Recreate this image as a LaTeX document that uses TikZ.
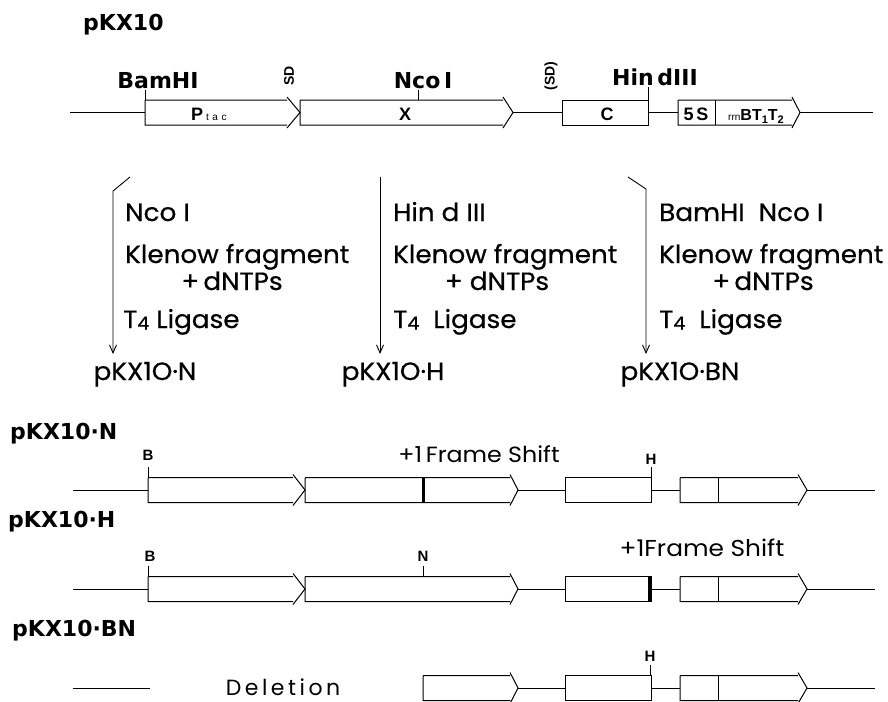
\documentclass[tikz,border=0pt]{standalone}
\usepackage{fontspec}
\usetikzlibrary{arrows.meta}
\setmainfont{Poppins}
\newfontfamily\bodyfont[FakeStretch=1.05,FakeBold=0.6]{Poppins}
\newfontfamily\thinfont[FakeStretch=1.08]{Poppins}
\newfontfamily\labfont{DejaVu Sans}
\newfontfamily\smallfont{Liberation Sans}
\newfontfamily\spacedfont[LetterSpace=16]{Poppins}
\newfontfamily\tacfont[LetterSpace=35]{Liberation Sans}
% gene arrow: [opts] x0, xhead, xtip, ycenter
\newcommand\genearrow[5][]{%
  \draw[gene,#1] (#2,#5-12.5) -- (#3,#5-12.5) (#3,#5-15.5) -- (#4,#5) -- (#3,#5+15.5)
    (#3,#5+12.5) -- (#2,#5+12.5) -- (#2,#5-12.5);}
\newcommand\genebox[3]{\draw[gene] (#1,#3-12.5) rectangle (#2,#3+12.5);}
\newcommand\Tfour{T\raisebox{-1.5pt}{\fontsize{18}{18}\selectfont 4}}
\begin{document}
\begin{tikzpicture}[x=1pt,y=-1pt,
  gene/.style={line width=1pt, line join=miter},
  dna/.style={line width=0.9pt},
  tick/.style={line width=0.9pt},
  big/.style={font=\labfont\bfseries\fontsize{22}{22}\selectfont, inner sep=0pt},
  small/.style={font=\smallfont\bfseries\fontsize{15}{15}\selectfont, inner sep=0pt},
  body/.style={font=\bodyfont\fontsize{25}{25}\selectfont, inner sep=0pt},
  inbox/.style={font=\smallfont\bfseries\fontsize{18}{18}\selectfont, inner sep=0pt},
  sdlab/.style={font=\smallfont\bfseries\fontsize{14}{14}\selectfont, inner sep=0pt, rotate=90},
  proc/.style={line width=0.9pt, -{Straight Barb[length=8pt,width=7pt,line width=0.9pt]}},
  thin/.style={font=\thinfont\fontsize{22}{22}\selectfont, inner sep=0pt}]
\useasboundingbox (0,0) rectangle (888,701);

% ================= pKX10 =================
\node[big, anchor=base west] (title) at (83,31) {pKX10};
\draw[dna] (70,112.5) -- (145,112.5);
\genearrow{145}{287}{300}{112.5}
\genearrow{300}{503}{513}{112.5}
\draw[dna] (513,112.5) -- (562,112.5);
\genebox{562}{648}{112.5}
\draw[dna] (648,112.5) -- (678,112.5);
\genearrow{678}{792}{800}{112.5}
\draw[gene] (715,100) -- (715,125);
\draw[dna] (800,112.5) -- (873,112.5);
% sites
\draw[tick] (145,90) -- (145,100);
\draw[tick] (418,90) -- (418,100);
\draw[tick] (648,87) -- (648,100);
\node[big, anchor=base] (bam) at (158,88) {BamHI};
\node[big, anchor=base] (nco) at (423,88) {Nco\,I};
\node[big, anchor=base] (hin) at (655,85) {Hin\,dIII};
\node[sdlab] (sd) at (289,76) {SD};
\node[sdlab] (sd2) at (551,76) {(SD)};
% box labels
\node[inbox, anchor=base west] (ptac) at (191,120) {P\,{\tacfont\mdseries\fontsize{10}{10}\selectfont tac}};
\node[inbox, anchor=base] (xlab) at (405,120) {X};
\node[inbox, anchor=base] (clab) at (607,120) {C};
\node[inbox, anchor=base] (fives) at (696,120) {5\,S};
\node[inbox, anchor=base] (rrn) at (756,120) {{\mdseries\fontsize{10}{10}\selectfont rrn}{\fontsize{16}{16}\selectfont BT\raisebox{-3pt}{\fontsize{11}{11}\selectfont 1}T\raisebox{-3pt}{\fontsize{11}{11}\selectfont 2}}};

% ================= processes =================
\coordinate (a1s) at (130,177);
\coordinate (a1b) at (113,191);
\coordinate (a1e) at (113,354);
\coordinate (a2s) at (380,177);
\coordinate (a2e) at (380,354);
\coordinate (a3s) at (628,177);
\coordinate (a3b) at (646,189);
\coordinate (a3e) at (646,354);
\draw[proc] (a1s) -- (a1b) -- (a1e);
\draw[proc] (a2s) -- (a2e);
\draw[proc] (a3s) -- (a3b) -- (a3e);

\node[body, anchor=base west] (n1) at (125,221) {Nco I};
\node[body, anchor=base west] (k1) at (125,263) {Klenow fragment};
\node[body, anchor=base] (d1) at (232,290) {+\,dNTPs};
\node[body, anchor=base west] (t1) at (123,328) {\Tfour\ Ligase};
\node[body, anchor=base] (p1) at (145,380) {pKX1O·N};

\node[body, anchor=base west] (n2) at (393,221) {Hin d III};
\node[body, anchor=base west] (k2) at (393,263) {Klenow fragment};
\node[body, anchor=base] (d2) at (497,290) {+ dNTPs};
\node[body, anchor=base west] (t2) at (393,328) {\Tfour\ \ Ligase};
\node[body, anchor=base] (p2) at (393,380) {pKX1O·H};

\node[body, anchor=base west] (n3) at (659,221) {BamHI\ \ Nco I};
\node[body, anchor=base west] (k3) at (659,263) {Klenow fragment};
\node[body, anchor=base] (d3) at (763,290) {+\,dNTPs};
\node[body, anchor=base west] (t3) at (659,328) {\Tfour\ \ Ligase};
\node[body, anchor=base] (p3) at (680,380) {pKX1O·BN};

% ================= pKX10-N =================
\node[big, anchor=base west] (rN) at (10,439) {pKX10·N};
\draw[dna] (73,490) -- (148,490);
\genearrow{148}{293}{305}{490}
\genearrow{305}{510}{518}{490}
\draw[line width=3pt] (423,477.5) -- (423,502.5);
\draw[dna] (518,490) -- (565,490);
\genebox{565}{651}{490}
\draw[dna] (651,490) -- (680,490);
\genearrow{680}{798}{807}{490}
\draw[gene] (718,477.5) -- (718,502.5);
\draw[dna] (807,490) -- (875,490);
\draw[tick] (148,467) -- (148,477.5);
\draw[tick] (651,467) -- (651,477.5);
\node[small, anchor=base] (bN) at (148,460) {B};
\node[small, anchor=base] (hN) at (651,464) {H};
\node[thin, anchor=base] (fsN) at (479,462) {+1\,Frame Shift};

% ================= pKX10-H =================
\node[big, anchor=base west] (rH) at (8,527) {pKX10·H};
\draw[dna] (73,589) -- (148,589);
\genearrow{148}{293}{305}{589}
\genearrow{305}{510}{518}{589}
\draw[dna] (518,589) -- (565,589);
\genebox{565}{651}{589}
\draw[line width=3pt] (649.5,576.5) -- (649.5,601.5);
\draw[dna] (651,589) -- (680,589);
\genearrow{680}{798}{807}{589}
\draw[gene] (718,576.5) -- (718,601.5);
\draw[dna] (807,589) -- (875,589);
\draw[tick] (148,566) -- (148,576.5);
\draw[tick] (423,566) -- (423,576.5);
\node[small, anchor=base] (bH) at (150,561) {B};
\node[small, anchor=base] (nH) at (423,561) {N};
\node[thin, anchor=base, font=\thinfont\fontsize{23}{23}\selectfont] (fsH) at (702,556) {+1Frame Shift};

% ================= pKX10-BN =================
\node[big, anchor=base west] (rBN) at (12,636) {pKX10·BN};
\draw[dna] (73,688) -- (150,688);
\node[font=\spacedfont\fontsize{22}{22}\selectfont, inner sep=0pt, anchor=base] (del) at (283,695) {Deletion};
\genearrow{423}{510}{518}{688}
\draw[dna] (518,688) -- (565,688);
\genebox{565}{651}{688}
\draw[dna] (651,688) -- (680,688);
\genearrow{680}{798}{807}{688}
\draw[gene] (718,675.5) -- (718,700.5);
\draw[dna] (807,688) -- (875,688);
\draw[tick] (650,665) -- (650,675.5);
\node[small, anchor=base] (hBN) at (650,661) {H};
\end{tikzpicture}
\end{document}
